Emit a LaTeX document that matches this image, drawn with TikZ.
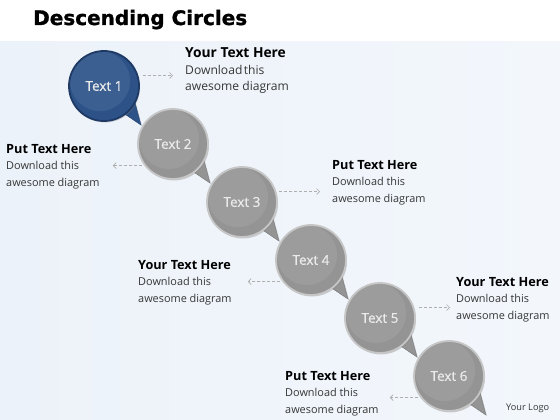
\documentclass[tikz,border=0pt]{standalone}
\usepackage{fontspec}
\setmainfont{Open Sans}
\newfontfamily\headfont[BoldFeatures={FakeBold=1.2}]{DejaVu Sans}
\newfontfamily\bubblefont[FakeBold=0.7]{Open Sans}
\usetikzlibrary{arrows.meta,shadows,backgrounds,calc}

\definecolor{skyback}{RGB}{236,242,249}
\definecolor{skyback2}{RGB}{243,247,252}
\definecolor{bubblegray}{RGB}{148,148,148}
\definecolor{rimgray}{RGB}{198,198,198}
\definecolor{bubbleblue}{RGB}{44,82,136}
\definecolor{rimblue}{RGB}{30,58,100}
\definecolor{linkgray}{RGB}{175,175,175}
\definecolor{bodygray}{RGB}{55,55,55}

\tikzset{
	bubble/.style = {circle, minimum size=70pt, inner sep=0pt, fill=bubblegray, draw=rimgray, line width=1.8pt,
		text=white!92!black, font=\bubblefont\fontsize{13.5}{15}\selectfont,
		drop shadow={opacity=0.35, shadow xshift=1pt, shadow yshift=-1.5pt},
		path picture={\fill[white,opacity=0.08] ([shift={(-4pt,5pt)}]path picture bounding box.center) circle (30pt);}},
	bluebubble/.style = {bubble, fill=bubbleblue, draw=rimblue},
	info/.style = {anchor=base west, align=left, inner sep=0pt, text=bodygray, font=\fontsize{10.9}{16.2}\selectfont},
	bigger/.style = {font=\fontsize{12.1}{16.5}\selectfont},
	tailpart/.style = {drop shadow={opacity=0.3, shadow xshift=1pt, shadow yshift=-1pt}},
	link/.style = {densely dashed, draw=linkgray, line width=0.6pt, -{Straight Barb[length=3pt,width=6pt]}},
}
\newcommand{\headline}[2][12.7]{\textcolor{black}{\bfseries\fontsize{#1}{17}\selectfont #2}}

\begin{document}
\begin{tikzpicture}[x=1pt, y=1pt]

	\useasboundingbox (0,0) rectangle (560,-420);

	% page background
	\begin{scope}[on background layer]
		\fill[white] (0,0) rectangle (560,-420);
		\shade[left color=skyback, right color=skyback2] (0,-42) rectangle (560,-420);
	\end{scope}

	\node[anchor=base west, inner sep=0pt, font=\headfont\bfseries\fontsize{20}{23}\selectfont] (title) at (33,-25) {Descending Circles};

	% circles
	\foreach \i/\kind in {1/bluebubble, 2/bubble, 3/bubble, 4/bubble, 5/bubble, 6/bubble}
		\node[\kind] (c\i) at ({104+69*(\i-1)}, {-86-58*(\i-1)}) {Text \i};

	% tails
	\begin{scope}[on background layer]
		\foreach \i/\col in {1/bubbleblue, 2/bubblegray, 3/bubblegray, 4/bubblegray, 5/bubblegray, 6/bubblegray}
			\filldraw[fill=\col, draw=\col!80!black, line width=0.4pt, tailpart]
				($(c\i)+(-54:34)$) -- ($(c\i)+(37,-39)$) -- ($(c\i)+(-26:34)$) -- cycle;
	\end{scope}

	% texts
	\node[info, bigger] (l1) at (185,-91) {\headline[13.8]{Your Text Here}\\ Download\hspace{0.12em}this\\ awesome diagram};
	\node[info] (l2) at (6,-186) {\headline{Put Text Here}\\ Download this\\ awesome diagram};
	\node[info] (l3) at (332,-202) {\headline{Put Text Here}\\ Download this\\ awesome diagram};
	\node[info] (l4) at (138,-302) {\headline{Your Text Here}\\ Download this\\ awesome diagram};
	\node[info] (l5) at (456,-319) {\headline{Your Text Here}\\ Download this\\ awesome diagram};
	\node[info] (l6) at (285,-413) {\headline{Put Text Here}\\ Download this\\ awesome diagram};

	\node[anchor=base west, inner sep=0pt, text=bodygray, font=\fontsize{9.2}{11}\selectfont] (logo) at (506,-410) {Your Logo};

	% arrows
	\draw[link, shorten <=5pt, shorten >=12pt] (c1.17) -- (c1.17 -| l1.west);
	\draw[link, shorten <=2pt, shorten >=13pt] (c2.217) -- (c2.217 -| l2.east);
	\draw[link, shorten <=3pt, shorten >=12pt] (c3.17) -- (c3.17 -| l3.west);
	\draw[link, shorten <=2pt, shorten >=16pt] (c4.217) -- (c4.217 -| l4.east);
	\draw[link, shorten <=5pt, shorten >=6pt] (c5.17) -- (c5.17 -| l5.west);
	\draw[link, shorten <=2pt, shorten >=11pt] (c6.217) -- (c6.217 -| l6.east);

\end{tikzpicture}
\end{document}
